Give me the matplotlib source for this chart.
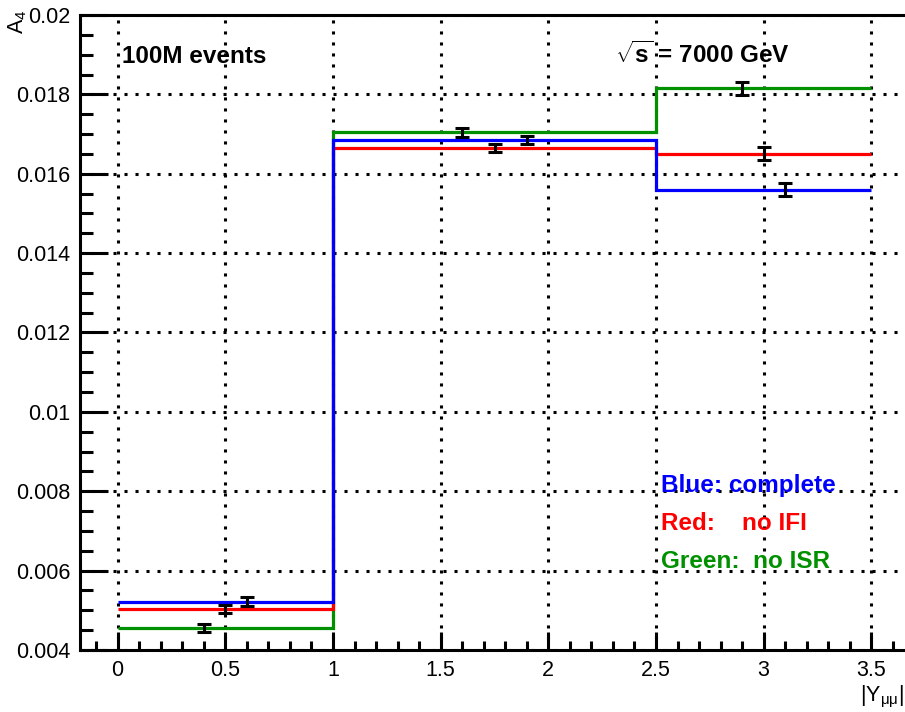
import numpy as np
import matplotlib
matplotlib.use("Agg")
import matplotlib.pyplot as plt
from matplotlib.ticker import MultipleLocator, FormatStrFormatter

# bin edges in |Y_mumu|
edges = [0.0, 1.0, 2.5, 3.5]

# A4 per bin
blue_vals  = [0.00522, 0.01685, 0.01560]   # complete
red_vals   = [0.00503, 0.01665, 0.01651]   # no IFI
green_vals = [0.00456, 0.01704, 0.01815]   # no ISR

# points with statistical errors (offset inside each bin)
blue_x  = [0.6, 1.9, 3.1]
red_x   = [0.5, 1.75, 3.0]
green_x = [0.4, 1.6, 2.9]
bin_err = [0.000105, 0.00011, 0.00016]

BLUE  = "#0000ff"
RED   = "#ff0000"
GREEN = "#009000"

plt.rcParams["font.family"] = ["Liberation Sans", "DejaVu Sans"]
plt.rcParams["mathtext.fontset"] = "custom"
plt.rcParams["mathtext.rm"] = "Liberation Sans"
plt.rcParams["mathtext.it"] = "Liberation Sans:italic"
plt.rcParams["mathtext.bf"] = "Liberation Sans:bold"

fig = plt.figure(figsize=(9.05, 7.12), dpi=100)
ax = fig.add_axes([80 / 905, 62 / 712, 829 / 905, 635 / 712])

ax.set_xlim(-0.175, 3.675)
ax.set_ylim(0.004, 0.02)

ax.grid(True, which="major", color="black", linestyle=(0, (1, 2.6)), linewidth=2.2)
ax.set_axisbelow(True)

# blue drawn last so it sits on top, as in the original
for vals, c in [(green_vals, GREEN), (red_vals, RED), (blue_vals, BLUE)]:
    ax.stairs(vals, edges, baseline=None, color=c, linewidth=2.3, zorder=3)

for xs, vals in [(green_x, green_vals), (red_x, red_vals), (blue_x, blue_vals)]:
    ax.errorbar(xs, vals, yerr=bin_err, fmt="none", ecolor="black",
                elinewidth=2.2, capsize=4.8, capthick=2.2, zorder=4)

ax.xaxis.set_major_locator(MultipleLocator(0.5))
ax.xaxis.set_minor_locator(MultipleLocator(0.1))
ax.yaxis.set_major_locator(MultipleLocator(0.002))
ax.yaxis.set_minor_locator(MultipleLocator(0.0005))
ax.xaxis.set_major_formatter(FormatStrFormatter("%g"))
ax.yaxis.set_major_formatter(FormatStrFormatter("%g"))

ax.tick_params(axis="both", which="both", direction="in", width=2.2,
               labelsize=15.5, top=False, right=False)
ax.tick_params(axis="y", which="major", length=20, pad=7)
ax.tick_params(axis="y", which="minor", length=9)
ax.tick_params(axis="x", which="major", length=13, pad=7)
ax.tick_params(axis="x", which="minor", length=6.5)
for sp in ax.spines.values():
    sp.set_linewidth(2.2)
ax.spines["right"].set_visible(False)

ax.text(0.02, 0.0188, "100M events", fontsize=17.5, fontweight="bold", va="baseline")
ax.text(2.31, 0.0188, r"$\mathbf{\sqrt{s}}$ = 7000 GeV", fontsize=17.5,
        fontweight="bold", va="baseline")

ax.text(2.522, 0.00799, "Blue: complete", color=BLUE, fontsize=17.5,
        fontweight="bold", va="baseline")
ax.text(2.522, 0.00702, "Red:    no IFI", color=RED, fontsize=17.5,
        fontweight="bold", va="baseline")
ax.text(2.522, 0.00606, "Green:  no ISR", color=GREEN, fontsize=17.5,
        fontweight="bold", va="baseline")

fig.text(18 / 905, 1 - 10 / 712, r"A$_4$", rotation=90, ha="center", va="top",
         fontsize=15.5)
fig.text(904 / 905, 2 / 712, r"$|\mathrm{Y}_{\mathrm{\mu\mu}}|$",
         ha="right", va="bottom", fontsize=15.5)

fig.savefig("out.png", dpi=100)
